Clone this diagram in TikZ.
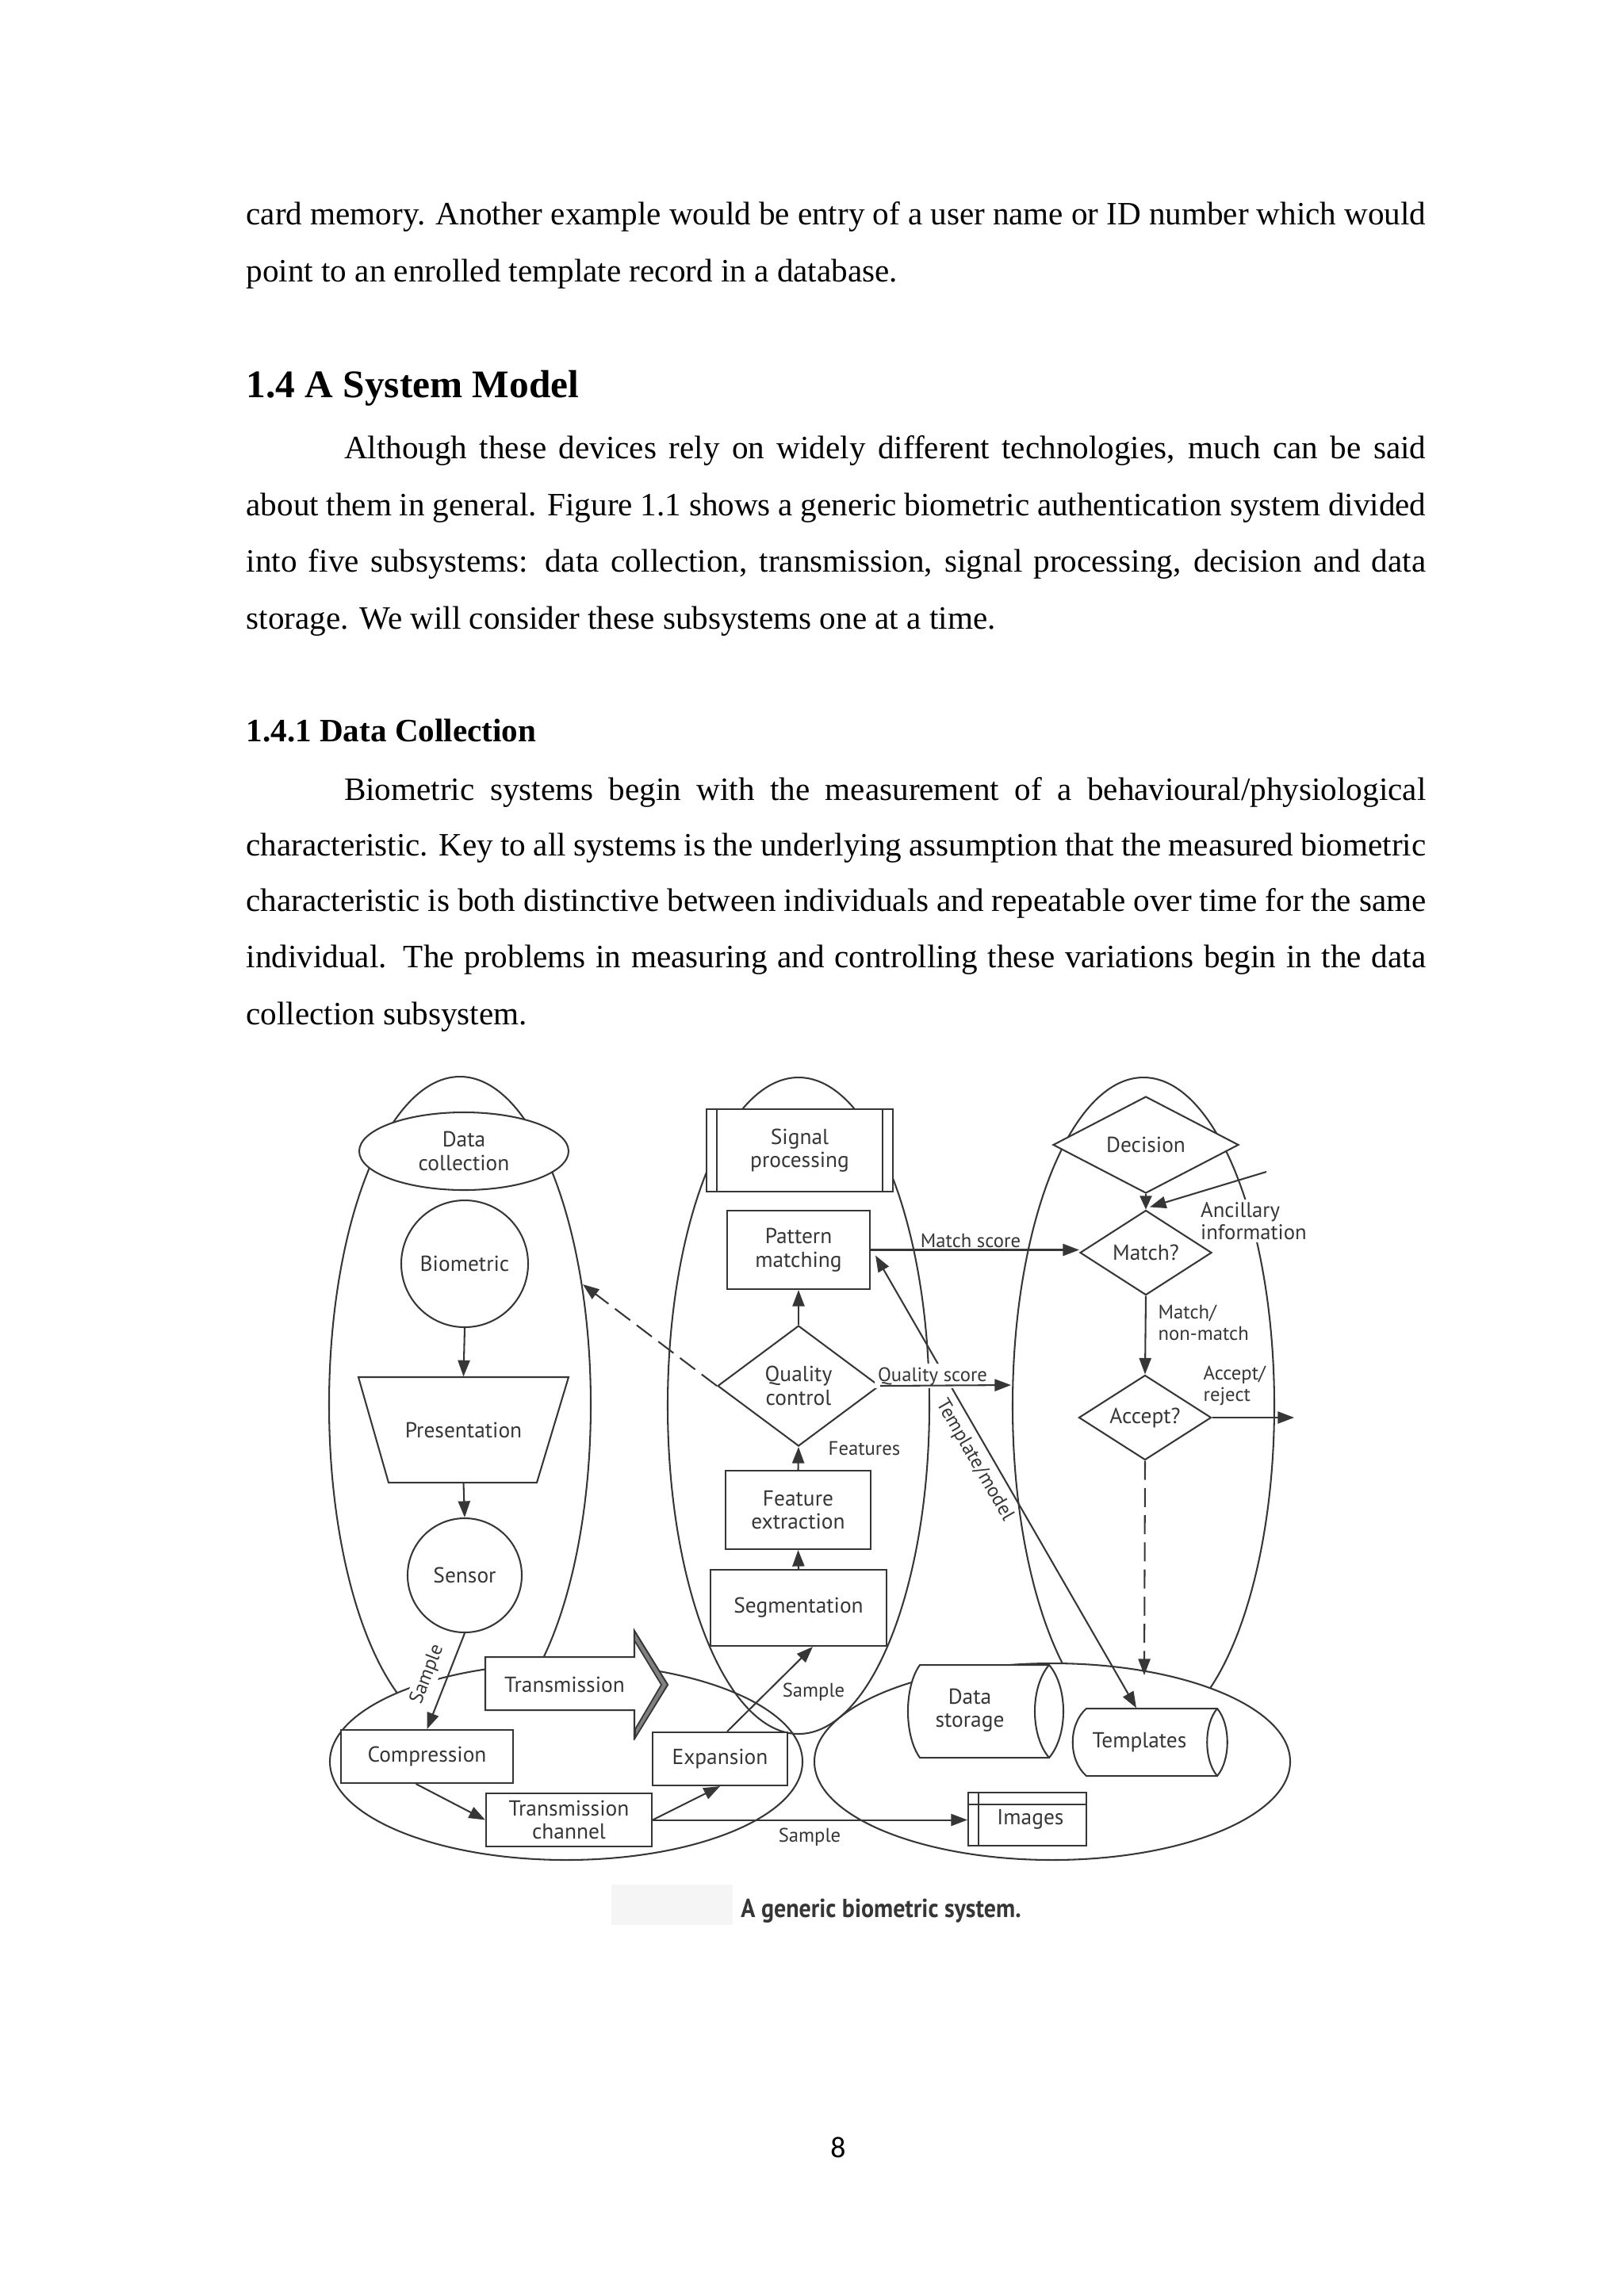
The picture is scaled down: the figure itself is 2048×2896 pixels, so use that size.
\documentclass[tikz,border=0pt]{standalone}
\usepackage{graphicx}
\usepackage{fontspec}
\setmainfont{Liberation Serif}
\newfontfamily\diagfont{PT Sans}
\newfontfamily\pagefont{Carlito}
\usetikzlibrary{arrows.meta,shapes.geometric}
\newdimen\px
\px=0.29175pt
\definecolor{ink}{HTML}{363636}
\begin{document}
\begin{tikzpicture}[x=\px, y=-\px,
  ln/.style={draw=ink, line width=0.6pt},
  arr/.style={ln, -{Triangle[length=6pt,width=4.4pt]}},
  nd/.style={ln, fill=white, inner sep=0pt, align=center, text=ink, font=\diagfont\fontsize{8}{8.6}\selectfont},
  rbox/.style={nd, rectangle},
  dbox/.style={nd, diamond},
  cbox/.style={nd, circle},
  ghost/.style={inner sep=0pt, align=center, text=ink, font=\diagfont\fontsize{8}{8.6}\selectfont},
  lbl/.style={inner sep=0pt, text=ink, align=left, font=\diagfont\fontsize{7.2}{7.8}\selectfont},
  bodytext/.style={anchor=base west, inner sep=0pt, font={\fontsize{12}{14}\selectfont\spaceskip=3pt plus 8pt minus 1.3pt}},
  headA/.style={anchor=base west, inner sep=0pt, font=\bfseries\fontsize{14.4}{16}\selectfont},
  headB/.style={anchor=base west, inner sep=0pt, font=\bfseries\fontsize{12}{14}\selectfont},
  dsh/.style={dash pattern=on 7pt off 3pt}
]
\useasboundingbox[fill=white] (0,0) rectangle (2048,2896);

% ---------------- body text ----------------
\node[bodytext] (t1) at (310,283) {\makebox[434pt][s]{card memory. Another example would be entry of a user name or ID number which would}};
\node[bodytext] (t2) at (310,355) {point to an enrolled template record in a database.};
\node[headA] (h1) at (310,501) {1.4 A System Model};
\node[bodytext] (p1) at (433.4,578) {\makebox[398pt][s]{Although these devices rely on widely different technologies, much can be said}};
\node[bodytext] (p2) at (310,650) {\makebox[434pt][s]{about them in general. Figure 1.1 shows a generic biometric authentication system divided}};
\node[bodytext] (p3) at (310,721) {\makebox[434pt][s]{into five subsystems: data collection, transmission, signal processing, decision and data}};
\node[bodytext] (p4) at (310,793) {storage. We will consider these subsystems one at a time.};
\node[headB] (h2) at (310,935) {1.4.1 Data Collection};
\node[bodytext] (q1) at (433.4,1009) {\makebox[398pt][s]{Biometric systems begin with the measurement of a behavioural/physiological}};
\node[bodytext] (q2) at (310,1079) {\makebox[434pt][s]{characteristic. Key to all systems is the underlying assumption that the measured biometric}};
\node[bodytext] (q3) at (310,1149) {\makebox[434pt][s]{characteristic is both distinctive between individuals and repeatable over time for the same}};
\node[bodytext] (q4) at (310,1220) {\makebox[434pt][s]{individual. The problems in measuring and controlling these variations begin in the data}};
\node[bodytext] (q5) at (310,1292) {collection subsystem.};

% ---------------- subsystem ellipses ----------------
\draw[ln] (580,1772) ellipse [x radius=165\px, y radius=414\px];
\draw[ln] (1442,1773) ellipse [x radius=165\px, y radius=414\px];
\draw[ln, fill=white] (714,2222) ellipse [x radius=298\px, y radius=124\px];
\draw[ln, fill=white] (1327,2222) ellipse [x radius=300\px, y radius=124\px];
\draw[ln] (1007,1773) ellipse [x radius=165\px, y radius=414\px];

% ---------------- data collection ----------------
\node[nd, ellipse, minimum width=264\px, minimum height=98\px] (dc) at (585,1452) {Data\\collection};
\node[cbox, minimum size=160\px] (bio) at (586,1594) {Biometric};
\draw[ln, fill=white] (452,1737) -- (717,1737) -- (677,1870) -- (490,1870) -- cycle;
\node[ghost, minimum width=265\px, minimum height=133\px] (pres) at (584.5,1803.5) {Presentation};
\node[cbox, minimum size=144\px] (sens) at (586,1987) {Sensor};

% ---------------- transmission ----------------
\node[rbox, minimum width=217\px, minimum height=67\px] (comp) at (538.5,2215.5) {Compression};
\node[rbox, minimum width=209\px, minimum height=67\px] (tch) at (717.5,2295.5) {Transmission\\channel};
\node[rbox, minimum width=170\px, minimum height=67\px] (exp) at (908,2218.5) {Expansion};
\draw[ln, fill=white] (612,2090) -- (800,2090) -- (800,2057) -- (842,2125) -- (800,2192) -- (800,2157) -- (612,2157) -- cycle;
\filldraw[draw=ink, fill=black!50, line width=0.5pt] (800,2057) -- (842,2125) -- (801,2192) -- (801,2181) -- (834,2125) -- (800,2069) -- cycle;
\node[ghost] (trans) at (712,2125) {Transmission};

% ---------------- signal processing ----------------
\node[rbox, minimum width=235\px, minimum height=104\px] (sp) at (1008.5,1451) {Signal\\processing};
\draw[ln] ([xshift=14\px]sp.north west) -- ([xshift=14\px]sp.south west);
\draw[ln] ([xshift=-14\px]sp.north east) -- ([xshift=-14\px]sp.south east);
\node[rbox, minimum width=180\px, minimum height=99\px] (pm) at (1007,1576.5) {Pattern\\matching};
\node[dbox, aspect=1.34, minimum width=204\px, minimum height=152\px] (qc) at (1007,1748) {Quality\\control};
\node[rbox, minimum width=183\px, minimum height=99\px] (fe) at (1006.5,1904.5) {Feature\\extraction};
\node[rbox, minimum width=222\px, minimum height=96\px] (seg) at (1007,2028) {Segmentation};

% ---------------- decision ----------------
\node[dbox, aspect=2, minimum width=234\px, minimum height=122\px] (dec) at (1445,1444) {Decision};
\node[dbox, aspect=1.5, minimum width=166\px, minimum height=107\px] (match) at (1445,1580) {Match?};
\node[dbox, aspect=1.5, minimum width=167\px, minimum height=107\px] (acc) at (1444,1788) {Accept?};

% ---------------- storage ----------------
\draw[ln, fill=white] (1160,2100) -- (1323,2100) .. controls (1347,2128) and (1347,2189) .. (1323,2217) -- (1160,2217) .. controls (1140,2189) and (1140,2128) .. (1160,2100) -- cycle;
\draw[ln] (1323,2100) .. controls (1299,2128) and (1299,2189) .. (1323,2217);
\node[ghost, minimum width=150\px, minimum height=117\px] (ds) at (1223,2157) {Data\\storage};
\draw[ln, fill=white] (1370,2155) -- (1535,2155) .. controls (1552,2175) and (1552,2220) .. (1535,2240) -- (1370,2240) .. controls (1347,2220) and (1347,2175) .. (1370,2155) -- cycle;
\draw[ln] (1535,2155) .. controls (1518,2175) and (1518,2220) .. (1535,2240);
\node[ghost, minimum width=170\px, minimum height=85\px] (tpl) at (1437,2197.5) {Templates};
\node[rbox, minimum width=149\px, minimum height=67\px] (img) at (1295.5,2294.5) {\hspace*{8\px}Images};
\draw[ln] ([xshift=14\px]img.north west) -- ([xshift=14\px]img.south west);
\draw[ln] ([yshift=-16\px]img.north west) -- ([yshift=-16\px]img.north east);

% ---------------- free ends ----------------
\coordinate (dashend) at (735,1620);
\coordinate (qsend) at (1275,1747);
\coordinate (ancs) at (1597,1478);
\coordinate (arend) at (1632,1788);
\coordinate (tmplend) at (1443,2113);

% ---------------- connectors ----------------
\draw[arr] (bio.south) -- (pres.north);
\draw[arr] (pres.south) -- (sens.north);
\draw[arr] (sens.south) -- (comp.north);
\draw[arr] ([xshift=-14\px]comp.south) -- (tch.west);
\draw[arr] (tch.east) -- (exp.south);
\draw[arr] (tch.east) -- (img.west |- tch.east);
\draw[arr] ([xshift=9\px]exp.north) -- ([xshift=18\px]seg.south);
\draw[arr] (seg.north) -- (fe.south);
\draw[arr] (fe.north) -- (qc.south);
\draw[arr] (qc.north) -- (pm.south);
\draw[arr, dsh] (qc.west) -- (dashend);
\draw[ln, {Triangle[length=6pt,width=4.4pt]}-{Triangle[length=6pt,width=4.4pt]}] ([shift={(6,7)}]pm.east) -- ([xshift=-4\px]tpl.north);
\node[lbl, fill=white, inner sep=1.2pt, anchor=base] (qslbl) at (1176,1742) {Quality score};
\draw[arr] (qc.east) -- (qsend);
\draw[arr] (pm.east) -- (match.west |- pm.east);
\draw[arr, -{Triangle[length=5pt,width=4.4pt]}] (dec.south) -- (match.north);
\node[lbl, anchor=west, fill=white, inner sep=1pt, font=\diagfont\fontsize{7.8}{8.2}\selectfont] (anclbl) at (1510,1540) {Ancillary\\information};
\draw[arr] (ancs) -- ([shift={(5,-3)}]match.north);
\draw[arr] (match.south) -- (acc.north);
\draw[arr] (acc.east) -- (arend);
\draw[arr, dsh] (acc.south) -- (tmplend);

% ---------------- connector labels ----------------
\node[lbl, rotate=69, fill=white, inner sep=1pt] (smp1) at (539,2112) {Sample};
\node[lbl, anchor=base] (smp2) at (1026,2140) {Sample};
\node[lbl, anchor=base] (smp3) at (1021,2323) {Sample};
\node[lbl, anchor=base] (feat) at (1090,1835) {Features};
\node[lbl, anchor=base] (mslbl) at (1224,1573) {Match score};
\node[lbl, rotate=-60] (tmlbl) at (1229,1842) {Template/model};
\node[lbl, anchor=west] (nmlbl) at (1460,1668) {Match/\\non-match};
\node[lbl, anchor=west] (arlbl) at (1517,1748) {Accept/\\reject};

% ---------------- caption and page number ----------------
\fill[black!4] (771,2377) rectangle (924,2428);
\node[inner sep=0pt, text=ink, font=\diagfont\bfseries\fontsize{9.6}{11}\selectfont] (cap) at (1111,2410) {\scalebox{0.91}[1]{A generic biometric system.}};
\node[inner sep=0pt, font=\pagefont\fontsize{11}{13}\selectfont] (pg) at (1057,2709) {8};
\end{tikzpicture}
\end{document}
